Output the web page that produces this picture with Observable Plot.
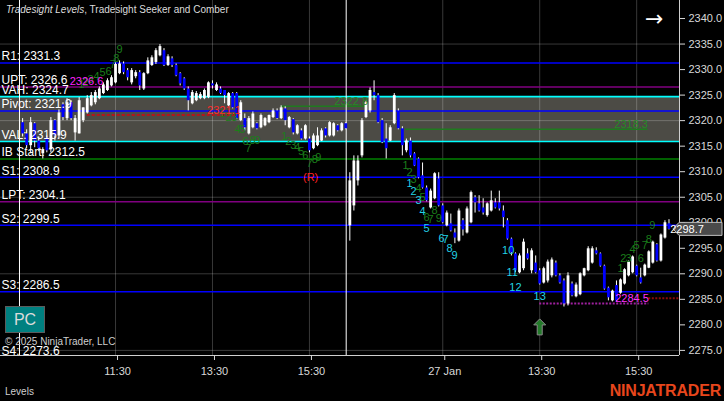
<!DOCTYPE html>
<html><head><meta charset="utf-8">
<script src="https://cdn.jsdelivr.net/npm/d3@7"></script>
<script src="https://cdn.jsdelivr.net/npm/@observablehq/plot@0.6"></script>
<style>
html,body{margin:0;padding:0;background:#000;}
#wrap{position:relative;width:724px;height:401px;overflow:hidden;font-family:"Liberation Sans",Arial,sans-serif;background:#000;}
#wrap svg{position:absolute;left:0;top:0;}
.ov{position:absolute;white-space:nowrap;line-height:1;}
</style></head><body><div id="wrap"></div>
<script>
// ---------- DATA ----------
const opens = [
2319.6,2317.4,2315.1,2319.4,2316.0,2313.5,2316.6,2314.3,2320.0,2317.0,
2323.1,2320.4,2323.5,2317.6,2317.4,2320.0,2321.5,2322.9,2323.5,2324.3,
2325.3,2325.9,2326.8,2327.4,2329.2,2331.1,2329.8,2327.4,2328.6,2329.4,
2326.2,2329.2,2330.8,2331.4,2332.7,2333.7,2330.8,2332.1,2330.8,2329.2,
2328.2,2326.2,2323.3,2323.9,2324.3,2324.3,2324.5,2327.2,2325.9,2326.2,
2325.9,2322.9,2325.3,2325.3,2320.0,2320.4,2317.4,2318.6,2319.4,2318.6,
2319.0,2319.6,2320.6,2321.9,2320.4,2322.3,2318.6,2320.2,2317.4,2318.0,
2316.4,2316.4,2314.5,2315.1,2316.0,2318.4,2317.0,2317.0,2319.0,2318.0,
2319.4,
2299.4,2303.3,2308.2,2313.1,2320.6,2321.9,2325.5,2324.9,2320.0,2316.4,
2316.0,2319.4,2321.9,2318.4,2314.1,2316.0,2313.5,2312.5,2309.2,2306.8,
2302.9,2304.7,2308.6,2303.3,2299.4,2299.8,2298.0,2296.4,2300.4,2298.0,
2300.0,2304.9,2303.7,2302.9,2301.4,2302.3,2303.9,2303.9,2302.3,2300.4,
2296.8,2293.9,2290.2,2291.0,2293.9,2290.6,2292.1,2290.6,2288.2,2288.6,
2289.6,2292.1,2289.6,2288.6,2284.1,2288.0,2285.5,2285.9,2289.6,2290.6,
2292.1,2294.5,2293.9,2291.5,2287.2,2284.7,2287.7,2286.2,2288.0,2289.6,
2290.2,2291.5,2289.2,2289.6,2291.1,2292.1,2295.7,2292.5,2297.0,2299.8];
const highs = [
2320.4,2318.2,2320.6,2319.6,2316.8,2314.7,2317.0,2320.6,2320.2,2322.1,
2323.5,2324.3,2323.9,2321.0,2324.5,2322.5,2324.9,2325.5,2325.9,2326.6,
2327.4,2328.2,2328.8,2331.3,2331.7,2331.5,2330.2,2330.2,2329.8,2329.8,
2329.4,2332.3,2332.7,2334.1,2334.9,2334.1,2332.9,2332.5,2331.1,2329.4,
2328.4,2326.6,2325.9,2325.7,2325.5,2326.2,2327.6,2327.8,2327.4,2326.6,
2325.9,2325.5,2325.5,2325.5,2323.9,2321.3,2320.8,2321.7,2319.6,2321.3,
2320.6,2321.1,2322.3,2322.3,2322.9,2322.7,2320.8,2320.4,2319.2,2318.4,
2319.2,2316.8,2317.4,2318.6,2318.4,2318.6,2319.8,2319.6,2319.2,2319.6,
2319.6,
2309.8,2313.1,2313.1,2320.4,2323.9,2326.4,2327.8,2325.3,2320.4,2319.4,
2319.0,2325.3,2322.3,2318.8,2316.4,2316.6,2313.7,2312.7,2311.7,2307.2,
2306.6,2309.8,2309.8,2303.7,2302.3,2301.7,2298.8,2302.7,2300.8,2303.1,
2306.2,2305.3,2305.3,2304.7,2303.9,2306.2,2304.7,2306.2,2303.3,2300.8,
2297.0,2294.1,2293.9,2296.8,2294.9,2294.9,2293.5,2291.0,2291.3,2292.7,
2293.1,2292.5,2290.0,2289.0,2290.2,2288.4,2288.2,2290.2,2291.1,2295.3,
2295.3,2295.1,2294.1,2291.7,2287.4,2286.8,2288.6,2289.0,2291.0,2292.5,
2293.5,2291.7,2291.1,2291.9,2294.5,2296.4,2295.9,2297.8,2300.4,2300.6];
const lows = [
2316.8,2314.5,2313.5,2314.7,2313.9,2312.5,2313.7,2313.7,2316.0,2316.4,
2320.0,2320.0,2320.0,2316.0,2317.4,2319.6,2321.3,2322.7,2323.1,2324.1,
2325.1,2325.7,2326.6,2327.2,2329.0,2329.0,2327.8,2327.0,2328.2,2325.9,
2325.9,2329.0,2330.6,2331.0,2332.5,2330.6,2330.6,2330.4,2328.6,2326.8,
2325.9,2321.9,2323.1,2323.7,2324.1,2324.1,2324.3,2326.2,2325.7,2325.1,
2323.3,2322.7,2322.3,2320.2,2319.8,2318.0,2317.2,2318.4,2318.2,2318.4,
2318.8,2319.4,2320.4,2320.2,2320.2,2319.0,2318.4,2317.2,2317.2,2316.2,
2316.2,2313.7,2314.3,2314.9,2315.9,2316.6,2316.8,2316.8,2317.8,2317.8,
2318.2,
2296.4,2302.3,2307.2,2312.7,2320.4,2321.5,2323.9,2319.4,2315.5,2312.5,
2315.9,2319.2,2318.2,2313.1,2313.7,2312.7,2311.0,2308.6,2306.6,2304.1,
2302.7,2304.5,2303.1,2299.8,2299.2,2298.2,2295.9,2296.2,2297.4,2297.8,
2299.8,2301.9,2302.1,2301.5,2301.1,2302.1,2302.7,2302.3,2299.0,2296.6,
2293.5,2290.2,2290.0,2290.6,2292.7,2290.0,2290.0,2287.8,2288.0,2288.2,
2289.2,2289.4,2288.0,2283.5,2283.7,2285.5,2285.3,2285.7,2289.4,2290.4,
2291.9,2293.7,2291.3,2286.8,2284.7,2284.5,2284.5,2286.0,2287.8,2289.4,
2290.0,2289.4,2288.0,2289.4,2291.0,2291.9,2292.3,2292.3,2296.8,2298.6];
const closes = [
2317.4,2315.1,2319.6,2316.0,2314.5,2314.3,2314.1,2320.0,2317.0,2321.5,
2320.6,2323.5,2320.4,2320.4,2323.9,2322.5,2324.3,2324.9,2325.5,2326.2,
2327.0,2327.8,2328.4,2331.0,2331.1,2329.4,2328.4,2329.8,2329.4,2326.8,
2329.2,2331.7,2332.3,2333.7,2334.5,2330.8,2332.5,2330.8,2328.8,2327.2,
2326.2,2323.9,2325.5,2325.3,2325.1,2325.9,2327.4,2326.8,2327.0,2325.3,
2324.9,2325.3,2322.5,2320.4,2323.5,2318.6,2320.4,2321.3,2318.4,2321.0,
2320.4,2321.0,2321.9,2320.4,2322.5,2320.0,2320.6,2317.6,2319.0,2316.4,
2319.0,2314.1,2317.0,2317.0,2318.0,2317.0,2319.6,2319.4,2318.0,2319.4,
2318.4,
2308.2,2312.1,2312.1,2320.0,2323.5,2325.9,2324.9,2319.6,2315.7,2314.5,
2318.6,2324.9,2318.4,2315.1,2316.0,2313.1,2311.1,2308.8,2306.8,2304.3,
2306.2,2309.6,2303.3,2300.0,2301.9,2298.4,2297.0,2302.3,2298.6,2302.7,
2305.9,2303.9,2302.3,2301.9,2303.7,2304.3,2302.9,2302.7,2301.0,2296.8,
2294.1,2290.6,2293.5,2296.2,2292.9,2294.5,2290.2,2288.0,2291.0,2292.3,
2292.7,2289.6,2288.2,2284.1,2289.6,2285.7,2287.8,2290.0,2291.0,2294.9,
2294.9,2293.9,2291.5,2287.0,2285.3,2286.6,2284.7,2288.8,2290.8,2292.3,
2293.3,2289.6,2288.2,2291.7,2294.3,2296.2,2292.5,2297.6,2300.0,2298.7];

const xTickIdx = [23, 47, 71, 104, 128, 152];
const xTickLabels = ["11:30", "13:30", "15:30", "27 Jan", "13:30", "15:30"];
const yTicks = [2340, 2335, 2330, 2325, 2320, 2315, 2310, 2305, 2300, 2295, 2290, 2285, 2280, 2275];
const yGrid = [2335, 2320, 2305, 2290, 2275];
const sessionBreaks = [-0.77, 80.1];

const levelNames = ["R1", "UPT", "VAH", "Pivot", "VAL", "IB Start", "S1", "LPT", "S2", "S3", "S4"];
const levelValues = [2331.3, 2326.6, 2324.7, 2321.9, 2315.9, 2312.5, 2308.9, 2304.1, 2299.5, 2286.5, 2273.6];
const valueAreaHigh = 2324.7, valueAreaLow = 2315.9;

// sequence counts (bar index, price, label)
const greenSeqIdx = [14.6,15.6,16.8,18.3,19.8,21.3,22.3,23.2,24.0,
  49.5,51.0,52.4,53.2,54.4,55.2,55.9,56.9,58.1,
  64.8,65.8,67.0,68.0,69.0,70.0,71.0,72.3,73.2,
  94.8,95.8,96.8,98.0,99.0,100.0,101.0,102.0,103.0,
  148.0,148.7,150.0,151.0,152.0,153.0,154.0,155.0,155.9];
const greenSeqPrice = [2327.0,2327.4,2328.0,2328.6,2329.4,2329.6,2331.0,2332.1,2333.9,
  2321.5,2320.6,2320.6,2318.2,2318.2,2315.9,2314.5,2316.1,2316.1,
  2316.9,2315.9,2315.1,2314.7,2313.9,2313.1,2311.7,2312.3,2312.7,
  2311.2,2309.8,2308.4,2306.7,2304.9,2301.0,2300.6,2302.4,2300.8,
  2291.0,2293.1,2293.1,2294.7,2295.5,2293.1,2295.5,2296.7,2299.4];
const greenSeqText = ["1","2","3","4","5","6","7","8","9","1","2","3","4","5","6","7","8","9",
  "1","2","3","4","5","6","7","8","9","1","2","3","4","5","6","7","8","9",
  "1","2","3","4","5","6","7","8","9"];
const cyanSeqIdx = [95.8,96.8,98.0,99.0,100.0,103.7,104.7,105.7,106.9,120.2,121.2,122.0,128.0];
const cyanSeqPrice = [2307.6,2306.1,2304.3,2302.2,2298.8,2297.0,2296.8,2294.9,2293.5,2294.5,2290.2,2287.4,2285.5];
const cyanSeqText = ["1","2","3","4","5","6","7","8","9","10","11","12","13"];

// annotation lines: value, from bar, to bar, label
const annValues = [2321.1, 2322.8, 2318.3, 2284.2, 2285.2];
const annFrom = [16, 64, 94.8, 128, 155];
const annTo = [54, 85.5, 154.8, 155, 162.6];
const annLabels = ["2321.1", "2322.8", "2318.3", "2284.5", ""];
const uptTag = {idx: 20.0, price: 2326.6, text: "2326.6"};
const reversalTag = {idx: 71.3, price: 2308.8, text: "(R)"};
const signalArrow = {idx: 128, price: 2279.6};

// ---------- CHART ----------
const n = opens.length;
const bars = d3.range(n).map(i => ({i, o: opens[i], h: highs[i], l: lows[i], c: closes[i]}));
const levels = levelNames.map((name, k) => ({name, value: levelValues[k]}));
const levelColor = {R1: "#0000ff", UPT: "#800080", VAH: "#00ffff", Pivot: "#0000ff", VAL: "#00ffff",
  "IB Start": "#008000", S1: "#0000ff", LPT: "#800080", S2: "#0000ff", S3: "#0000ff", S4: "#0000ff"};
const greenSeq = greenSeqIdx.map((x, k) => ({x, y: greenSeqPrice[k], t: greenSeqText[k]}));
const cyanSeq = cyanSeqIdx.map((x, k) => ({x, y: cyanSeqPrice[k], t: cyanSeqText[k]}));
const anns = annValues.map((v, k) => ({v, a: annFrom[k], b: annTo[k], t: annLabels[k]}));
const annStyle = [
  {stroke: "#b3141c", dash: "3,2", width: 2, fill: "#ff2a2a"},
  {stroke: "#1f7a1f", dash: null, width: 1.5, fill: "#248a24"},
  {stroke: "#1f7a1f", dash: null, width: 1.5, fill: "#248a24"},
  {stroke: "#a020a0", dash: "2,1.5", width: 2, fill: "#ff30ff"},
  {stroke: "#8b0a0a", dash: "2,1.5", width: 2, fill: "#ff0000"}
];

const arrowSymbol = {draw(ctx) {
  ctx.moveTo(0, -8); ctx.lineTo(6, -2); ctx.lineTo(2.5, -2); ctx.lineTo(2.5, 8);
  ctx.lineTo(-2.5, 8); ctx.lineTo(-2.5, -2); ctx.lineTo(-6, -2); ctx.closePath();
}};

const font = "'Liberation Sans', Arial, sans-serif";
const marks = [
  Plot.rectY([0], {x1: -5.47, x2: 162.6, y1: valueAreaLow, y2: valueAreaHigh, fill: "#4c4b45"}),
  Plot.gridX(xTickIdx, {stroke: "#fff", strokeOpacity: 0.22, strokeWidth: 1}),
  Plot.gridY(yGrid, {stroke: "#fff", strokeOpacity: 0.22, strokeWidth: 1}),
  Plot.ruleY(levels, {y: "value", stroke: d => levelColor[d.name], strokeWidth: 1.6, clip: true}),
  ...anns.map((d, k) => Plot.ruleY([d], {y: "v", x1: "a", x2: "b", stroke: annStyle[k].stroke,
      strokeWidth: annStyle[k].width, strokeDasharray: annStyle[k].dash})),
  Plot.ruleX(sessionBreaks, {stroke: "#ffffff", strokeWidth: 1}),
  Plot.ruleX(bars, {x: "i", y1: "l", y2: "h", stroke: "#ffffff", strokeWidth: 1}),
  Plot.ruleX(bars.filter(d => d.c >= d.o), {x: "i", y1: "o", y2: "c", stroke: "#ffffff", strokeWidth: 2.8}),
  Plot.ruleX(bars.filter(d => d.c < d.o), {x: "i", y1: "o", y2: "c", stroke: "#0000ff", strokeWidth: 2.8}),
  Plot.text(greenSeq, {x: "x", y: "y", text: "t", fill: "#1b7d1b", fontSize: 11}),
  Plot.text(cyanSeq, {x: "x", y: "y", text: "t", fill: "#22d2e6", fontSize: 11}),
  ...anns.map((d, k) => Plot.text([d], {x: "b", y: "v", text: "t", textAnchor: "end", dy: -5,
      fill: annStyle[k].fill, fontSize: 11})),
  Plot.text([uptTag], {x: "idx", y: "price", text: "text", textAnchor: "end", dy: -5, fill: "#ff20ff", fontSize: 11}),
  Plot.text([reversalTag], {x: "idx", y: "price", text: "text", fill: "#ff2020", fontSize: 11}),
  Plot.dot([signalArrow], {x: "idx", y: "price", symbol: arrowSymbol, r: 8, fill: "#237a2a", stroke: "#8a8a8a", strokeWidth: 1}),
  Plot.text(levels, {frameAnchor: "left", y: "value", text: d => `${d.name}: ${d.value.toFixed(1)}`,
      textAnchor: "start", dx: 1, dy: -6.5, fill: "#ffffff", fontSize: 12, clip: true}),
  Plot.ruleX([162.6], {stroke: "#cfcfcf", strokeWidth: 1}),
  Plot.ruleY([2274.0], {stroke: "#cfcfcf", strokeWidth: 1}),
  Plot.axisY({ticks: yTicks, anchor: "right", tickFormat: d => d.toFixed(1), tickSize: 5, tickPadding: 4, label: null}),
  Plot.axisX({ticks: xTickIdx, anchor: "bottom", tickFormat: d => xTickLabels[xTickIdx.indexOf(d)],
      tickSize: 5, tickPadding: 7, label: null, dx: 2})
];

const plot = Plot.plot({
  width: 724, height: 401,
  marginTop: 0, marginLeft: 0, marginRight: 45, marginBottom: 46,
  style: {background: "#000", color: "#d8d8d8", fontFamily: font, fontSize: "11px"},
  x: {type: "linear", domain: [-5.47, 162.6], axis: null},
  y: {domain: [2274.0, 2343.53], axis: null},
  marks
});
const wrap = document.getElementById("wrap");
wrap.appendChild(plot);

// last price marker, placed with the plot's own scales
const ys = plot.scale("y");
const xs = plot.scale("x");
const last = closes[n - 1];
const yc = ys.apply(last);
const xr = xs.apply(162.6);
const g = d3.select(plot).append("g");
g.append("path")
  .attr("d", `M${xr - 6},${yc} L${xr},${yc - 6.5} L${xr + 43},${yc - 6.5} L${xr + 43},${yc + 6.5} L${xr},${yc + 6.5} Z`)
  .attr("fill", "#4a4a4a").attr("stroke", "#bdbdbd").attr("stroke-width", 1);
g.append("text").attr("x", xr + 8).attr("y", yc).attr("dy", "0.36em")
  .attr("fill", "#ffffff").attr("font-size", 11).text(last.toFixed(1));

// overlays (text outside the data area)
function ov(html, css) { const d = document.createElement("div"); d.className = "ov"; d.innerHTML = html; Object.assign(d.style, css); wrap.appendChild(d); return d; }
ov("<i>Tradesight Levels</i>, Tradesight Seeker and Comber", {left: "6px", top: "5px", fontSize: "10px", color: "#dcdcdc"});
ov("→", {left: "645px", top: "8px", fontSize: "22px", color: "#ffffff", fontFamily: "'DejaVu Sans', sans-serif"});
ov("PC", {left: "5px", top: "306px", width: "38px", height: "25px", background: "#008080", border: "1px solid #5c5c5c",
  color: "#dcdcdc", fontSize: "16px", textAlign: "center", lineHeight: "25px"});
ov("© 2025 NinjaTrader, LLC", {left: "5px", top: "337px", fontSize: "10px", color: "#cfcfcf"});
ov("Levels", {left: "5px", top: "387px", fontSize: "10px", color: "#cfcfcf"});
ov("NINJATRADER", {right: "3px", top: "383px", fontSize: "16px", fontWeight: "bold", color: "#e8461c", letterSpacing: "-0.2px"});
</script>
</body></html>
